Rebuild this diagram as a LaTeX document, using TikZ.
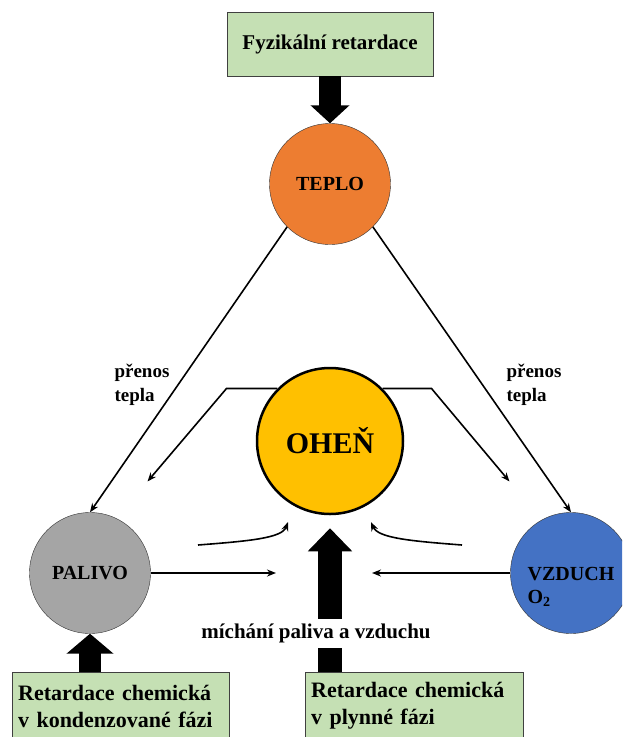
\documentclass[tikz,border=0pt]{standalone}
\usepackage{fontspec}
\setmainfont{Liberation Serif}
\usetikzlibrary{arrows.meta,positioning}
\definecolor{retgreen}{HTML}{C5E0B4}
\definecolor{heatorange}{HTML}{ED7D31}
\definecolor{fireyellow}{HTML}{FFC000}
\definecolor{fuelgray}{HTML}{A5A5A5}
\definecolor{airblue}{HTML}{4472C4}
\tikzset{
    retbox/.style={draw=black!75,fill=retgreen,inner sep=6pt,font=\bfseries\fontsize{22}{27}\selectfont},
    zone/.style={circle,draw=black!80,inner sep=0pt,minimum size=121pt,font=\bfseries\fontsize{20}{23}\selectfont},
    heat/.style={-{Stealth[length=9pt,width=7pt]},line width=1.6pt},
    fat/.style={line width=22pt,-{Triangle[length=18pt,width=38pt]}},
    note/.style={align=left,font=\bfseries\fontsize{19}{24}\selectfont}
}

\begin{document}
\begin{tikzpicture}[x=1pt,y=-1pt]
    \useasboundingbox (0,0) rectangle (622,737);
    \clip (0,0) rectangle (622,737);
    % boxes
    \node (fyz) at (330,44) [retbox,minimum width=206pt,minimum height=64pt,font=\bfseries\fontsize{21}{24}\selectfont]{Fyzikální retardace};
    \node (kond) at (12,672) [retbox,anchor=north west,minimum width=217pt,minimum height=68pt,text width=205pt,align=left]{Retardace chemická\\v kondenzované fázi};
    \node (plyn) at (305,672) [retbox,anchor=north west,minimum width=218pt,minimum height=68pt,text width=206pt,align=left]{Retardace chemická\\v plynné fázi};
    % circles
    \node (teplo) at (330,184) [zone,fill=heatorange]{TEPLO};
    \node (ohen) at (330,441) [zone,fill=fireyellow,draw=black,line width=2.5pt,minimum size=146pt,font=\bfseries\fontsize{30}{34}\selectfont]{OHEŇ};
    \node (palivo) at (90,573) [zone,fill=fuelgray]{PALIVO};
    \node (vzduch) at (571,573) [zone,fill=airblue]{};
    \node (vzduchtext) at ([yshift=-14pt]vzduch.center) [zone,draw=none,minimum size=0pt,align=left]{VZDUCH\\O\textsubscript{2}};
    % fat arrows
    \draw[fat] (fyz.south) -- (teplo.north);
    \draw[fat,line width=22pt,-{Triangle[length=20pt,width=46pt]}] (palivo.south |- kond.north) -- (palivo.south);
    \draw[fat,line width=24pt,-{Triangle[length=23pt,width=43pt]},shorten >=13pt] (ohen.south |- plyn.north) -- (ohen.south);
    \node (mix) at (316,633) [fill=white,inner sep=1pt,minimum height=29pt,font=\bfseries\fontsize{21}{24}\selectfont]{míchání paliva a vzduchu};
    % heat transfer
    \draw[heat] (teplo.225) -- (palivo.north);
    \draw[heat] (teplo.-45) -- (vzduch.north);
    \node (prenosl) at (142,385) [note]{přenos\\tepla};
    \node (prenosr) at (534,385) [note]{přenos\\tepla};
    \draw[heat] (ohen.135) -- ++(-51,0) -- ++(-79,93);
    \draw[heat] (ohen.45) -- ++(49,0) -- ++(78,93);
    % mixing
    \coordinate (mixl) at (276,573);
    \coordinate (mixr) at (372,573);
    \draw[heat] (palivo.east) -- (mixl);
    \draw[heat] (vzduch.west) -- (mixr);
    \coordinate (curvl) at (198,545);
    \coordinate (curvr) at (462,545);
    \draw[heat] (curvl) .. controls (250,541) and (282,538) .. (288,522);
    \draw[heat] (curvr) .. controls (410,541) and (378,538) .. (371,522);
\end{tikzpicture}
\end{document}
